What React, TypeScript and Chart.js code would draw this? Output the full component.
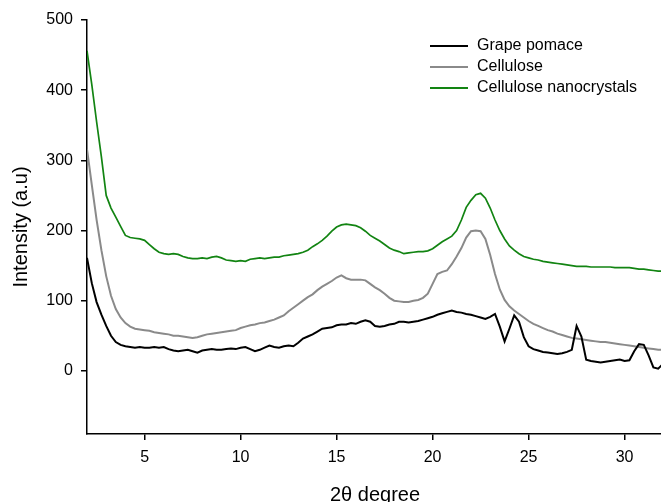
import React, { useEffect, useRef } from 'react';
import { Chart, registerables } from 'chart.js';

Chart.register(...registerables);

const angles = [
  2, 2.25, 2.5, 2.75, 3, 3.25, 3.5, 3.75, 4, 4.25, 4.5, 4.75,
  5, 5.25, 5.5, 5.75, 6, 6.25, 6.5, 6.75, 7, 7.25, 7.5, 7.75,
  8, 8.25, 8.5, 8.75, 9, 9.25, 9.5, 9.75, 10, 10.25, 10.5, 10.75,
  11, 11.25, 11.5, 11.75, 12, 12.25, 12.5, 12.75, 13, 13.25, 13.5, 13.75,
  14, 14.25, 14.5, 14.75, 15, 15.25, 15.5, 15.75, 16, 16.25, 16.5, 16.75,
  17, 17.25, 17.5, 17.75, 18, 18.25, 18.5, 18.75, 19, 19.25, 19.5, 19.75,
  20, 20.25, 20.5, 20.75, 21, 21.25, 21.5, 21.75, 22, 22.25, 22.5, 22.75,
  23, 23.25, 23.5, 23.75, 24, 24.25, 24.5, 24.75, 25, 25.25, 25.5, 25.75,
  26, 26.25, 26.5, 26.75, 27, 27.25, 27.5, 27.75, 28, 28.25, 28.5, 28.75,
  29, 29.25, 29.5, 29.75, 30, 30.25, 30.5, 30.75, 31, 31.25, 31.5, 31.75, 32,
];

const grapePomace = [
  161, 125, 98, 80, 64, 50, 41, 37, 35, 34, 33, 34,
  33, 33, 34, 33, 34, 31, 29, 28, 29, 30, 28, 26,
  29, 30, 31, 30, 30, 31, 32, 31, 33, 34, 31, 28,
  30, 33, 36, 34, 33, 35, 36, 35, 40, 46, 49, 52,
  56, 60, 61, 62, 65, 66, 66, 68, 67, 70, 72, 70,
  64, 63, 64, 66, 67, 70, 70, 69, 70, 71, 73, 75,
  77, 80, 82, 84, 86, 84, 83, 81, 80, 78, 76, 74,
  77, 81, 63, 42, 60, 79, 70, 48, 35, 31, 29, 27,
  26, 25, 24, 25, 27, 30, 64, 49, 16, 14, 13, 12,
  13, 14, 15, 16, 14, 15, 28, 38, 37, 22, 5, 3, 10,
];

const cellulose = [
  316, 265, 215, 172, 135, 107, 88, 76, 68, 63, 60, 59,
  58, 57, 55, 54, 53, 52, 50, 50, 49, 48, 47, 48,
  50, 52, 53, 54, 55, 56, 57, 58, 61, 63, 65, 66,
  68, 69, 71, 73, 76, 79, 85, 90, 95, 100, 105, 109,
  115, 120, 124, 128, 133, 136, 132, 130, 130, 130, 129, 124,
  119, 115, 110, 104, 100, 99, 98, 98, 100, 101, 104, 110,
  124, 138, 141, 143, 152, 163, 175, 190, 199, 200, 199, 188,
  165, 138, 116, 101, 92, 86, 81, 76, 71, 67, 64, 61,
  58, 56, 53, 51, 49, 47, 46, 45, 44, 43, 42, 41,
  41, 40, 39, 38, 37, 36, 35, 34, 33, 32, 31, 30, 30,
];

const nanocrystals = [
  456, 408, 355, 305, 250, 232, 219, 206, 193, 190, 189, 188,
  186, 180, 174, 169, 167, 166, 167, 166, 163, 161, 160, 160,
  161, 160, 162, 163, 161, 158, 157, 156, 157, 156, 159, 160,
  161, 160, 161, 162, 162, 164, 165, 166, 167, 169, 172, 177,
  181, 186, 192, 199, 205, 208, 209, 208, 207, 204, 199, 193,
  189, 185, 180, 175, 172, 170, 167, 168, 169, 170, 170, 171,
  174, 179, 184, 188, 192, 200, 215, 233, 243, 251, 253, 246,
  232, 215, 200, 188, 178, 172, 167, 163, 161, 159, 158, 156,
  155, 154, 153, 152, 151, 150, 149, 149, 149, 148, 148, 148,
  148, 148, 147, 147, 147, 147, 146, 145, 145, 144, 143, 142, 142,
];

const seriesNames = ['Grape pomace', 'Cellulose', 'Cellulose nanocrystals'];
const seriesColors = ['#000000', '#8a8a8a', '#128412'];
const xTicks = [5, 10, 15, 20, 25, 30];
const yTicks = [0, 100, 200, 300, 400, 500];

const FONT = '"Liberation Sans", Arial, Helvetica, sans-serif';

const insideLegend = {
  id: 'insideLegend',
  afterDraw(chart: any) {
    const ctx = chart.ctx;
    ctx.save();
    ctx.font = `16px ${FONT}`;
    ctx.textBaseline = 'middle';
    ctx.textAlign = 'left';
    const rows = [46, 67, 88];
    chart.data.datasets.forEach((ds: any, i: number) => {
      const y = rows[i];
      ctx.strokeStyle = ds.borderColor;
      ctx.lineWidth = 2;
      ctx.beginPath();
      ctx.moveTo(430, y);
      ctx.lineTo(468, y);
      ctx.stroke();
      ctx.fillStyle = '#000';
      ctx.fillText(ds.label, 477, y);
    });
    ctx.restore();
  },
};

export default function App() {
  const ref = useRef<HTMLCanvasElement | null>(null);

  useEffect(() => {
    if (!ref.current) return;
    const series = [grapePomace, cellulose, nanocrystals];
    const chart = new Chart(ref.current, {
      type: 'line',
      data: {
        datasets: series.map((vals, i) => ({
          label: seriesNames[i],
          data: angles.map((x, j) => ({ x, y: vals[j] })),
          borderColor: seriesColors[i],
          borderWidth: i === 2 ? 1.7 : 2,
          pointRadius: 0,
          tension: 0,
          fill: false,
        })),
      },
      options: {
        animation: false,
        responsive: false,
        maintainAspectRatio: false,
        layout: { padding: { top: 20, right: 0, left: 0, bottom: 0 } },
        plugins: {
          legend: { display: false },
          tooltip: { enabled: false },
        },
        scales: {
          x: {
            type: 'linear',
            min: 2,
            max: 32,
            afterBuildTicks: (s: any) => {
              s.ticks = xTicks.map((v) => ({ value: v }));
            },
            afterFit: (s: any) => {
              s.height = 86;
            },
            grid: {
              drawOnChartArea: false,
              drawTicks: true,
              tickLength: 6,
              color: '#000',
              lineWidth: 1.5,
            },
            border: { display: true, color: '#000', width: 1.5 },
            ticks: {
              color: '#000',
              font: { family: FONT, size: 16 },
              padding: 8,
              maxRotation: 0,
              autoSkip: false,
            },
            title: {
              display: true,
              text: '2θ degree',
              color: '#000',
              font: { family: FONT, size: 20 },
              padding: { top: 0, bottom: 13 },
            },
          },
          y: {
            type: 'linear',
            min: -90,
            max: 500,
            afterBuildTicks: (s: any) => {
              s.ticks = yTicks.map((v) => ({ value: v }));
            },
            afterFit: (s: any) => {
              s.width = 87;
            },
            grid: {
              drawOnChartArea: false,
              drawTicks: true,
              tickLength: 6,
              color: '#000',
              lineWidth: 1.5,
            },
            border: { display: true, color: '#000', width: 1.5 },
            ticks: {
              color: '#000',
              font: { family: FONT, size: 16 },
              padding: 8,
            },
            title: {
              display: true,
              text: 'Intensity (a.u)',
              color: '#000',
              font: { family: FONT, size: 20 },
              padding: { top: 9, bottom: 0 },
            },
          },
        },
      },
      plugins: [insideLegend],
    });
    return () => chart.destroy();
  }, []);

  return (
    <div
      style={{
        position: 'absolute',
        left: 0,
        top: 0,
        width: 661,
        height: 502,
        overflow: 'hidden',
        background: '#fff',
      }}
    >
      <canvas ref={ref} width={663} height={520} style={{ display: 'block' }} />
    </div>
  );
}
